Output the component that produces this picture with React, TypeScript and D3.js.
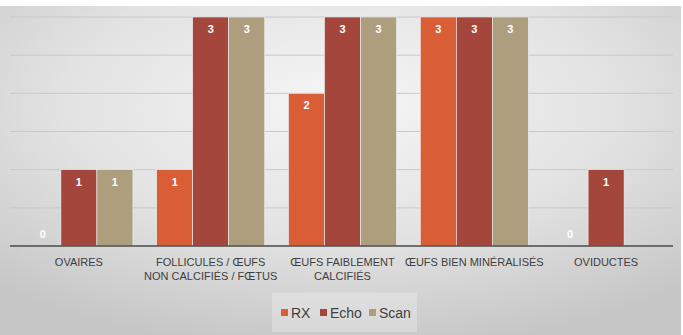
import React from "react";
import * as d3 from "d3";

const categories = [
  ["OVAIRES"],
  ["FOLLICULES / ŒUFS", "NON CALCIFIÉS / FŒTUS"],
  ["ŒUFS FAIBLEMENT", "CALCIFIÉS"],
  ["ŒUFS BIEN MINÉRALISÉS"],
  ["OVIDUCTES"],
];
const seriesNames = ["RX", "Echo", "Scan"];
const rxValues: (number | null)[] = [0, 1, 2, 3, 0];
const echoValues: (number | null)[] = [1, 3, 3, 3, 1];
const scanValues: (number | null)[] = [1, 3, 3, 3, null];
const colors = ["#D95E36", "#A5463C", "#AD9E7D"];
const yTicks = [0, 0.5, 1, 1.5, 2, 2.5, 3];

const W = 683;
const H = 335;

export default function App() {
  const catKeys = categories.map((_, i) => String(i));
  const x = d3.scaleBand<string>().domain(catKeys).range([13, 672]).paddingInner(0);
  const xs = d3
    .scaleBand<string>()
    .domain(seriesNames)
    .range([0, x.bandwidth()])
    .paddingInner(0)
    .paddingOuter(0.33);
  const y = d3.scaleLinear().domain([0, 3]).range([246, 17]);
  const all = [rxValues, echoValues, scanValues];

  return (
    <svg
      width={W}
      height={H}
      style={{ position: "absolute", left: 0, top: 0, display: "block" }}
    >
      <defs>
        <radialGradient id="bg" cx="0.5" cy="0.3" r="0.75">
          <stop offset="0" stopColor="#f6f6f6" />
          <stop offset="0.55" stopColor="#e2e2e2" />
          <stop offset="1" stopColor="#c6c6c6" />
        </radialGradient>
      </defs>
      <rect x={0} y={0} width={W} height={H} fill="#ffffff" />
      <rect x={0} y={6} width={681} height={H - 6} fill="url(#bg)" />
      {yTicks.slice(1).map((t) => (
        <line
          key={t}
          x1={10}
          x2={673}
          y1={y(t)}
          y2={y(t)}
          stroke="#c9c9c9"
          strokeWidth={1}
        />
      ))}
      {categories.map((_, ci) =>
        seriesNames.map((s, si) => {
          const v = all[si][ci];
          if (v === null) return null;
          const bx = (x(String(ci)) ?? 0) + (xs(s) ?? 0);
          const bw = xs.bandwidth();
          return (
            <g key={`${ci}-${si}`}>
              {v > 0 && (
                <rect
                  x={bx}
                  y={y(v)}
                  width={bw}
                  height={y(0) - y(v)}
                  fill={colors[si]}
                  stroke="#f2f2f2"
                  strokeWidth={0.6}
                />
              )}
              <text
                x={bx + bw / 2}
                y={v > 0 ? y(v) + 16 : y(0) - 8}
                textAnchor="middle"
                fill="#ffffff"
                fontFamily="'Liberation Sans', Arial, sans-serif"
                fontWeight="bold"
                fontSize={11}
              >
                {v}
              </text>
            </g>
          );
        })
      )}
      <line x1={10} x2={673} y1={y(0)} y2={y(0)} stroke="#4a4a4a" strokeWidth={1.6} />
      {categories.map((lines, ci) => (
        <text
          key={ci}
          x={(x(String(ci)) ?? 0) + x.bandwidth() / 2}
          textAnchor="middle"
          fill="#3f3f3f"
          fontFamily="'Liberation Sans', Arial, sans-serif"
          fontSize={11}
        >
          {lines.map((l, li) => (
            <tspan key={li} x={(x(String(ci)) ?? 0) + x.bandwidth() / 2} y={266 + li * 13.5}>
              {l}
            </tspan>
          ))}
        </text>
      ))}
      <rect x={272} y={293} width={145} height={39} fill="#ffffff" fillOpacity={0.25} />
      {seriesNames.map((s, si) => {
        const lx = [281, 320, 369][si];
        return (
          <g key={s}>
            <rect x={lx} y={309} width={7} height={7} fill={colors[si]} />
            <text
              x={lx + 10}
              y={318}
              fill="#3f3f3f"
              fontFamily="'Liberation Sans', Arial, sans-serif"
              fontSize={14}
            >
              {s}
            </text>
          </g>
        );
      })}
    </svg>
  );
}
